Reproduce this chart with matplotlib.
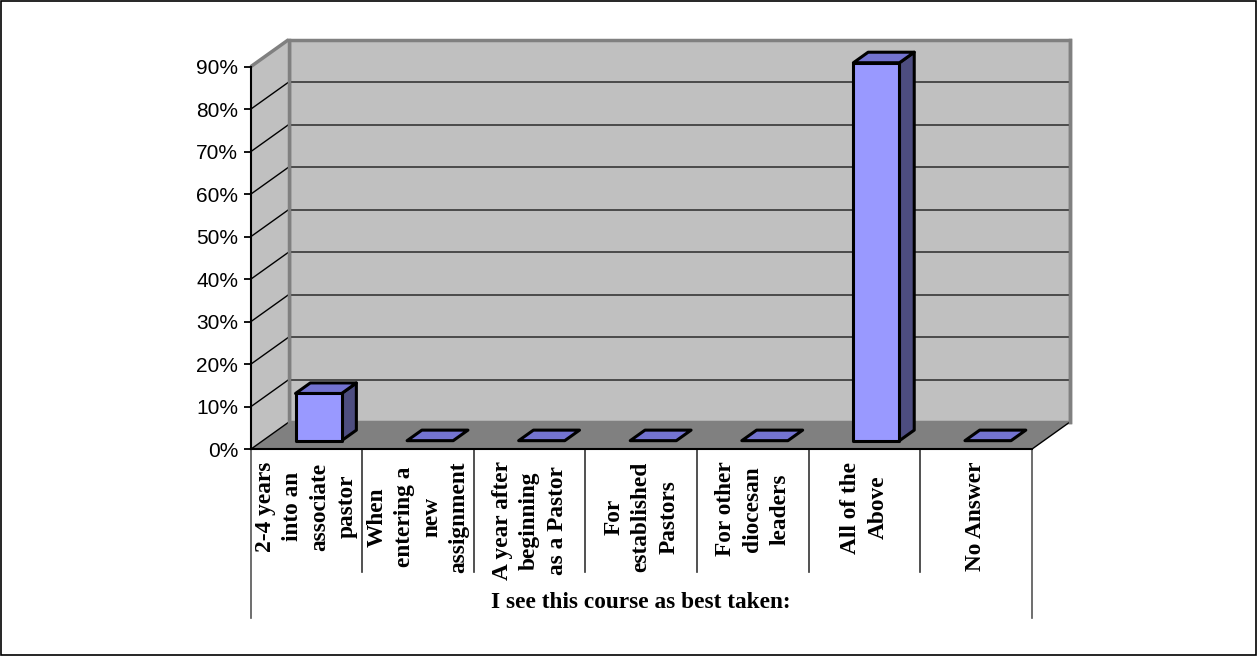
import matplotlib
matplotlib.use("Agg")
import matplotlib.pyplot as plt
from matplotlib.patches import Polygon, Rectangle
import numpy as np

# ---- data ----
categories = [
    "2-4 years\ninto an\nassociate\npastor",
    "When\nentering a\nnew\nassignment",
    "A year after\nbeginning\nas a Pastor",
    "For\nestablished\nPastors",
    "For other\ndiocesan\nleaders",
    "All of the\nAbove",
    "No Answer",
]
values = [11.1, 0.0, 0.0, 0.0, 0.0, 88.9, 0.0]
y_ticks = [0, 10, 20, 30, 40, 50, 60, 70, 80, 90]
y_tick_labels = [f"{t}%" for t in y_ticks]
axis_title = "I see this course as best taken:"

# ---- layout ----
W, H = 1257, 656
fig = plt.figure(figsize=(W / 100, H / 100), dpi=100)
L, B, w, h = 250.7, 206.7, 781.0, 382.6
ax = fig.add_axes([L / W, B / H, w / W, h / H])
n = len(categories)
ymax = 90
ax.set_xlim(0, n)
ax.set_ylim(0, ymax)
ax.patch.set_visible(False)

px_x = w / n          # pixels per category
px_y = h / ymax       # pixels per percent
DX = 37.8 / px_x      # depth offset in data units
DY = 27.0 / px_y

wall_c = "#C0C0C0"
floor_c = "#808080"
border_c = "#808080"

# back wall
ax.add_patch(Polygon([(DX, DY), (n + DX, DY), (n + DX, ymax + DY), (DX, ymax + DY)],
                     closed=True, facecolor=wall_c, edgecolor=border_c, lw=2.5,
                     clip_on=False, zorder=1))
# side wall
ax.add_patch(Polygon([(0, 0), (0, ymax), (DX, ymax + DY), (DX, DY)],
                     closed=True, facecolor=wall_c, edgecolor="none",
                     clip_on=False, zorder=1))
ax.plot([0, DX], [ymax, ymax + DY], color=border_c, lw=2.5, clip_on=False, zorder=2,
        solid_capstyle="butt")
# floor
ax.add_patch(Polygon([(0, 0), (n, 0), (n + DX, DY), (DX, DY)],
                     closed=True, facecolor=floor_c, edgecolor="none",
                     clip_on=False, zorder=1.5))
ax.plot([n, n + DX], [0, DY], color="black", lw=1, clip_on=False, zorder=2)
ax.plot([0, DX], [0, DY], color="black", lw=1, clip_on=False, zorder=2)

# gridlines
for t in y_ticks[1:-1]:
    ax.plot([DX, n + DX], [t + DY, t + DY], color="#2a2a2a", lw=1.1, clip_on=False, zorder=2)
    ax.plot([0, DX], [t, t + DY], color="black", lw=1, clip_on=False, zorder=2)
ax.plot([DX, DX], [DY, ymax + DY], color=border_c, lw=2.5, clip_on=False, zorder=2.5)
ax.plot([n + DX, n + DX], [DY, ymax + DY], color=border_c, lw=2.5, clip_on=False, zorder=2.5)

# bars
front_c = "#9999FF"
top_c = "#7373D0"
side_c = "#4D4D80"
bw = 0.413
d0, d1 = 0.32, 0.71
for i, v in enumerate(values):
    x0 = i + 0.5 - bw / 2 + d0 * DX
    x1 = x0 + bw
    y0 = d0 * DY
    ddx = (d1 - d0) * DX
    ddy = (d1 - d0) * DY
    y1 = y0 + v
    if v > 0:
        ax.add_patch(Polygon([(x1, y0), (x1 + ddx, y0 + ddy), (x1 + ddx, y1 + ddy), (x1, y1)],
                             closed=True, facecolor=side_c, edgecolor="black", lw=2.2,
                             joinstyle="round", clip_on=False, zorder=3))
        ax.add_patch(Polygon([(x0, y0), (x1, y0), (x1, y1), (x0, y1)],
                             closed=True, facecolor=front_c, edgecolor="black", lw=2.2,
                             joinstyle="round", clip_on=False, zorder=3.1))
    ax.add_patch(Polygon([(x0, y1), (x1, y1), (x1 + ddx, y1 + ddy), (x0 + ddx, y1 + ddy)],
                         closed=True, facecolor=top_c, edgecolor="black", lw=2.2,
                         joinstyle="round", clip_on=False, zorder=3.2))

# axes spines / ticks
for s in ["top", "right"]:
    ax.spines[s].set_visible(False)
ax.spines["left"].set_color("black")
ax.spines["left"].set_linewidth(1.5)
ax.spines["bottom"].set_color("black")
ax.spines["bottom"].set_linewidth(1.5)
ax.spines["left"].set_zorder(4)
ax.spines["bottom"].set_zorder(4)
ax.set_yticks(y_ticks)
ax.set_yticklabels(y_tick_labels, fontfamily=["Liberation Sans", "DejaVu Sans"], fontsize=15)
ax.tick_params(axis="y", direction="out", length=5, width=1.3, color="black", pad=4)
ax.set_xticks([])

# category table below axis
sep_bottom = -(572 - 449.3) / px_y
outer_bottom = -(618 - 449.3) / px_y
for k in range(n + 1):
    yb = outer_bottom if k in (0, n) else sep_bottom
    ax.plot([k, k], [0, yb], color="#333333" if k not in (0, n) else "#555555",
            lw=1.2, clip_on=False, zorder=4)

label_top = -(461.5 - 449.3) / px_y
for i, lab in enumerate(categories):
    ax.text(i + 0.5, label_top, lab, rotation=90, ha="center", va="top",
            multialignment="center", fontsize=16.8, fontweight="bold",
            fontfamily=["Liberation Serif", "DejaVu Serif"], linespacing=1.4,
            clip_on=False, zorder=5)

title_y = -(603 - 449.3) / px_y
ax.text(n / 2, title_y, axis_title, ha="center", va="center", fontsize=16.8,
        fontweight="bold", fontfamily=["Liberation Serif", "DejaVu Serif"], zorder=5)

# outer frame of the chart area
fig.patches.append(Rectangle((0.0004, 0.0008), 0.9988, 0.998, transform=fig.transFigure,
                             fill=False, edgecolor="black", lw=1.2))

fig.savefig("out.png", dpi=100)
